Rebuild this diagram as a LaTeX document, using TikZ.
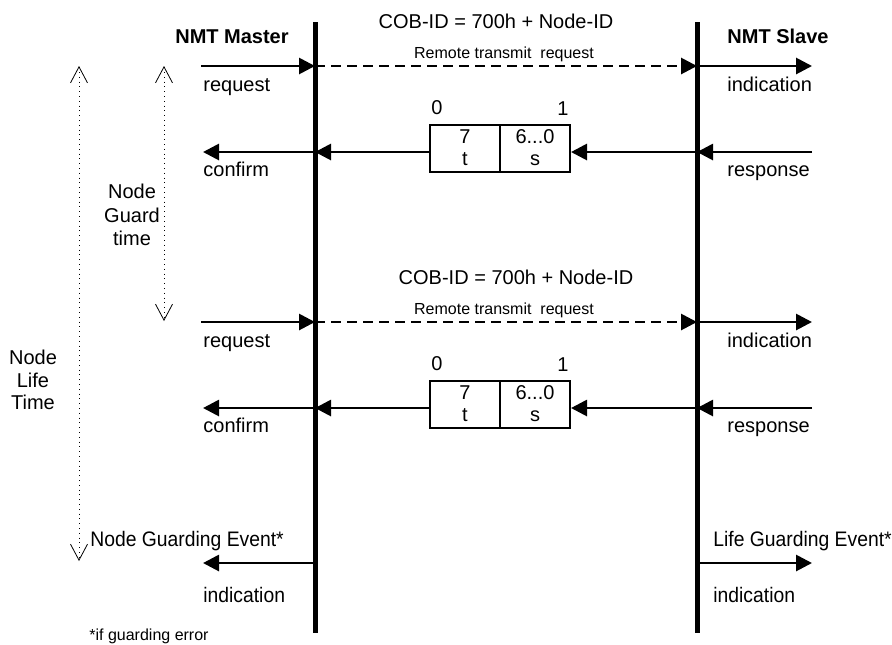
\documentclass[tikz,border=0pt]{standalone}
\usepackage{fontspec}
\setmainfont{Liberation Sans}
\newfontfamily\eventfont[FakeStretch=0.92]{Liberation Sans}
\usetikzlibrary{arrows.meta,positioning}

\begin{document}
\begin{tikzpicture}[
        x=0.5pt, y=-0.5pt,
        lifeline/.style={
            line width=2.5pt,
        },
        msg/.style={
            line width=1.4pt,
            -{Triangle[length=8pt, width=8pt]},
        },
        rtr/.style={
            msg,
            dash pattern=on 5pt off 3pt,
        },
        span/.style={
            line width=0.4pt,
            dotted,
            {Straight Barb[length=8pt, width=8.5pt]}-{Straight Barb[length=8pt, width=8.5pt]},
        },
        cell/.style={
            draw,
            line width=1pt,
            minimum width=35pt,
            minimum height=23.5pt,
            inner sep=0pt,
            align=center,
            font=\fontsize{10}{11}\selectfont,
        },
        idx/.style={
            inner sep=1pt,
            yshift=3pt,
        },
        lbl/.style={
            anchor=base west,
            inner sep=0pt,
        },
        event/.style={
            lbl,
            font=\eventfont\fontsize{10.5}{12}\selectfont,
        },
        head/.style={
            anchor=base,
            font=\bfseries,
        },
    ]
    \useasboundingbox (0,0) rectangle (892,644);

    % Lifelines of master and slave.
    \coordinate (m-top) at (315,22);
    \coordinate (m-bot) at (315,633);
    \coordinate (s-top) at (697,22);
    \coordinate (s-bot) at (697,633);
    \draw[lifeline] (m-top) -- (m-bot);
    \draw[lifeline] (s-top) -- (s-bot);

    \node[head] (master) at (232,43) {NMT Master};
    \node[head] (slave) at (778,43) {NMT Slave};

    % One guarding cycle: remote request, then the answer frame.
    \foreach \c/\o/\x in {1/0/496, 2/256/516} {
        \coordinate (rq\c) at (201,66+\o);
        \coordinate (mq\c) at (315,66+\o);
        \coordinate (sq\c) at (697,66+\o);
        \coordinate (in\c) at (812,66+\o);
        \coordinate (rs\c) at (812,152+\o);
        \coordinate (sr\c) at (697,152+\o);
        \coordinate (mc\c) at (315,152+\o);
        \coordinate (cf\c) at (203,152+\o);

        \node[anchor=base] (cob\c) at (\x,28+\o) {COB-ID = 700h + Node-ID};
        \node[anchor=base, font=\fontsize{8}{9}\selectfont] (rtr\c) at (504,58+\o)
            {Remote transmit\ \ request};

        \node[cell] (t\c) at (465,148+\o) {7\\t};
        \node[cell, right=-1pt of t\c] (s\c) {6...0\\s};
        \node[idx, above right] (z\c) at (t\c.north west) {0};
        \node[idx, above left] (o\c) at (s\c.north east) {1};

        \node[lbl] (req\c) at (203,91+\o) {request};
        \node[lbl] (cnf\c) at (203,176+\o) {confirm};
        \node[lbl] (ind\c) at (727,91+\o) {indication};
        \node[lbl] (rsp\c) at (727,176+\o) {response};

        \draw[msg] (rq\c) -- (mq\c);
        \draw[rtr] (mq\c) -- (sq\c);
        \draw[msg] (sq\c) -- (in\c);
        \draw[msg] (rs\c) -- (sr\c);
        \draw[msg] (sr\c) -- (s\c.east |- sr\c);
        \draw[msg] (t\c.west |- mc\c) -- (mc\c);
        \draw[msg] (mc\c) -- (cf\c);
    }

    % Guarding events.
    \coordinate (m-ev) at (315,563);
    \coordinate (n-ev) at (203,563);
    \coordinate (s-ev) at (697,563);
    \coordinate (l-ev) at (812,563);
    \node[event] (nge) at (90,546) {Node Guarding Event*};
    \node[event] (nind) at (203,602) {indication};
    \node[event] (lge) at (713,546) {Life Guarding Event*};
    \node[event] (lind) at (713,602) {indication};
    \draw[msg] (m-ev) -- (n-ev);
    \draw[msg] (s-ev) -- (l-ev);
    \node[lbl, font=\fontsize{8}{9}\selectfont] (note) at (89,640) {*if guarding error};

    % Time spans.
    \coordinate (gt-a) at (164,66);
    \coordinate (gt-b) at (164,321);
    \coordinate (lt-a) at (79,66);
    \coordinate (lt-b) at (79,561);
    \draw[span] (gt-a) -- (gt-b);
    \draw[span] (lt-a) -- (lt-b);
    \node[align=center, font=\fontsize{10}{11.75}\selectfont] (guard) at (132,215) {Node\\Guard\\time};
    \node[align=center, font=\fontsize{10}{11.25}\selectfont] (life) at (33,380) {Node\\Life\\Time};
\end{tikzpicture}
\end{document}
